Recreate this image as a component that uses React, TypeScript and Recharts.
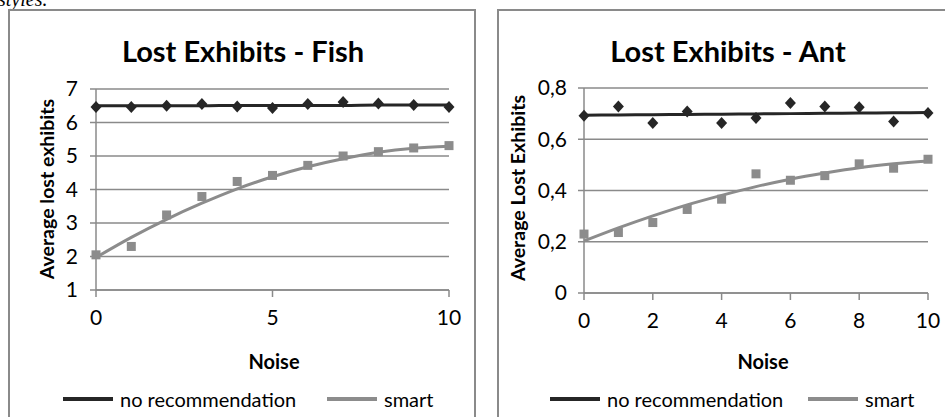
import React from "react";
import { ComposedChart, Line, XAxis, YAxis, CartesianGrid } from "recharts";

const noiseLevels = [0, 1, 2, 3, 4, 5, 6, 7, 8, 9, 10];

const fishNoRec = [6.46, 6.46, 6.5, 6.55, 6.48, 6.43, 6.55, 6.61, 6.57, 6.52, 6.46];
const fishNoRecTrend = [6.5, 6.5, 6.5, 6.5, 6.51, 6.51, 6.51, 6.51, 6.52, 6.52, 6.52];
const fishSmart = [2.05, 2.3, 3.24, 3.79, 4.24, 4.42, 4.72, 5.0, 5.13, 5.24, 5.31];
const fishSmartTrend = [1.97, 2.57, 3.11, 3.59, 4.02, 4.38, 4.68, 4.92, 5.11, 5.23, 5.29];

const antNoRec = [0.692, 0.728, 0.663, 0.708, 0.663, 0.683, 0.741, 0.728, 0.725, 0.669, 0.702];
const antNoRecTrend = [0.694, 0.695, 0.696, 0.697, 0.698, 0.699, 0.7, 0.701, 0.702, 0.703, 0.704];
const antSmart = [0.23, 0.236, 0.275, 0.326, 0.366, 0.465, 0.44, 0.458, 0.504, 0.487, 0.522];
const antSmartTrend = [0.203, 0.254, 0.301, 0.344, 0.381, 0.415, 0.444, 0.468, 0.489, 0.504, 0.515];

const fishYTicks = [1, 2, 3, 4, 5, 6, 7];
const fishXTicks = [0, 5, 10];
const antYTicks = [0, 0.2, 0.4, 0.6, 0.8];
const antXTicks = [0, 2, 4, 6, 8, 10];

const seriesNames = ["no recommendation", "smart"];

const DARK = "#262626";
const GRAY = "#8c8c8c";
const AXIS = "#8a8a8a";
const FONT = "Lato, 'Open Sans', sans-serif";

function buildRows(noRec: number[], noRecTrend: number[], smart: number[], smartTrend: number[]) {
  return noiseLevels.map((x, i) => ({
    x,
    noRec: noRec[i],
    noRecTrend: noRecTrend[i],
    smart: smart[i],
    smartTrend: smartTrend[i],
  }));
}

const fishRows = buildRows(fishNoRec, fishNoRecTrend, fishSmart, fishSmartTrend);
const antRows = buildRows(antNoRec, antNoRecTrend, antSmart, antSmartTrend);

const renderDiamond = (props: any) => {
  const { cx, cy, index } = props;
  if (cx == null || cy == null) return <g key={`d${index}`} />;
  return (
    <path
      key={`d${index}`}
      d={`M${cx},${cy - 6} L${cx + 5.5},${cy} L${cx},${cy + 6} L${cx - 5.5},${cy} Z`}
      fill={DARK}
    />
  );
};

const renderSquare = (props: any) => {
  const { cx, cy, index } = props;
  if (cx == null || cy == null) return <g key={`s${index}`} />;
  return <rect key={`s${index}`} x={cx - 4.5} y={cy - 4.5} width={9} height={9} fill={GRAY} />;
};

type PanelProps = {
  left: number;
  width: number;
  rows: any[];
  yDomain: [number, number];
  yTicks: number[];
  xTicks: number[];
  margin: { top: number; right: number; left: number; bottom: number };
  yTickMargin: number;
  xTickMargin: number;
  yFormat?: (v: number) => string;
  title: string;
  titleX: number;
  yLabel: string;
  yLabelX: number;
  yLabelY: number;
  noiseX: number;
  legendX: number[];
};

function Panel(p: PanelProps) {
  const tickStyle = { fill: "#000", fontSize: 21, fontFamily: FONT };
  return (
    <>
      <div
        style={{
          position: "absolute",
          left: p.left,
          top: 9,
          width: p.width,
          height: 420,
          borderLeft: `2px solid ${AXIS}`,
          borderTop: `2px solid ${AXIS}`,
          borderRight: p.left < 400 ? `2px solid ${AXIS}` : "none",
          boxSizing: "border-box",
        }}
      />
      <div style={{ position: "absolute", left: p.left, top: 9 }}>
        <ComposedChart width={p.width} height={408} data={p.rows} margin={p.margin}>
          <CartesianGrid horizontal vertical={false} stroke={AXIS} strokeWidth={1.5} />
          <XAxis
            dataKey="x"
            type="number"
            domain={[0, 10]}
            ticks={p.xTicks}
            interval={0}
            height={30}
            tickSize={7}
            tickMargin={p.xTickMargin}
            axisLine={{ stroke: AXIS, strokeWidth: 1.5 }}
            tickLine={{ stroke: AXIS, strokeWidth: 1.5 }}
            tick={tickStyle}
          />
          <YAxis
            type="number"
            domain={p.yDomain}
            ticks={p.yTicks}
            interval={0}
            width={40}
            tickSize={6}
            tickMargin={p.yTickMargin}
            tickFormatter={p.yFormat}
            axisLine={{ stroke: AXIS, strokeWidth: 1.5 }}
            tickLine={{ stroke: AXIS, strokeWidth: 1.5 }}
            tick={tickStyle}
            allowDataOverflow
          />
          <Line dataKey="noRecTrend" type="monotone" stroke={DARK} strokeWidth={3} dot={false} activeDot={false} isAnimationActive={false} />
          <Line dataKey="smartTrend" type="monotone" stroke={GRAY} strokeWidth={3} dot={false} activeDot={false} isAnimationActive={false} />
          <Line dataKey="noRec" stroke="none" strokeWidth={0} dot={renderDiamond} activeDot={false} isAnimationActive={false} />
          <Line dataKey="smart" stroke="none" strokeWidth={0} dot={renderSquare} activeDot={false} isAnimationActive={false} />
        </ComposedChart>
      </div>
      <div
        style={{
          position: "absolute",
          left: p.titleX,
          top: 50,
          transform: "translate(-50%, -50%)",
          fontFamily: FONT,
          fontWeight: 700,
          fontSize: 29,
          whiteSpace: "nowrap",
          color: "#000",
        }}
      >
        {p.title}
      </div>
      <div
        style={{
          position: "absolute",
          left: p.yLabelX,
          top: p.yLabelY,
          transform: "translate(-50%, -50%) rotate(-90deg)",
          fontFamily: FONT,
          fontWeight: 700,
          fontSize: 19.5,
          whiteSpace: "nowrap",
          color: "#000",
        }}
      >
        {p.yLabel}
      </div>
      <div
        style={{
          position: "absolute",
          left: p.noiseX,
          top: 361,
          transform: "translate(-50%, -50%)",
          fontFamily: FONT,
          fontWeight: 700,
          fontSize: 20,
          color: "#000",
        }}
      >
        Noise
      </div>
      {seriesNames.map((name, i) => (
        <div
          key={name}
          style={{
            position: "absolute",
            left: p.legendX[i],
            top: 399,
            transform: "translateY(-50%)",
            display: "flex",
            alignItems: "center",
            fontFamily: FONT,
            fontSize: 20,
            whiteSpace: "nowrap",
            color: "#000",
          }}
        >
          <span
            style={{
              display: "inline-block",
              width: 50,
              height: 4,
              background: i === 0 ? DARK : GRAY,
              marginRight: 7,
            }}
          />
          {name}
        </div>
      ))}
    </>
  );
}

export default function App() {
  return (
    <div
      style={{
        position: "absolute",
        left: 0,
        top: 0,
        width: 945,
        height: 417,
        overflow: "hidden",
        background: "#fff",
      }}
    >
      <div
        style={{
          position: "absolute",
          left: -2,
          top: -11,
          fontFamily: "'Liberation Serif', serif",
          fontStyle: "italic",
          fontSize: 20,
          lineHeight: "20px",
          color: "#000",
        }}
      >
        styles.
      </div>
      <Panel
        left={8}
        width={468}
        rows={fishRows}
        yDomain={[1, 7]}
        yTicks={fishYTicks}
        xTicks={fishXTicks}
        margin={{ top: 80, right: 27, left: 48, bottom: 97 }}
        yTickMargin={12}
        xTickMargin={13}
        title="Lost Exhibits - Fish"
        titleX={243}
        yLabel="Average lost exhibits"
        yLabelX={46}
        yLabelY={189}
        noiseX={274}
        legendX={[63, 327]}
      />
      <Panel
        left={497}
        width={448}
        rows={antRows}
        yDomain={[0, 0.8]}
        yTicks={antYTicks}
        xTicks={antXTicks}
        margin={{ top: 79, right: 17, left: 47, bottom: 94 }}
        yTickMargin={11}
        xTickMargin={13}
        yFormat={(v: number) => (v === 0 ? "0" : v.toFixed(1).replace(".", ","))}
        title="Lost Exhibits - Ant"
        titleX={728}
        yLabel="Average Lost Exhibits"
        yLabelX={517}
        yLabelY={188}
        noiseX={763}
        legendX={[550, 808]}
      />
    </div>
  );
}
